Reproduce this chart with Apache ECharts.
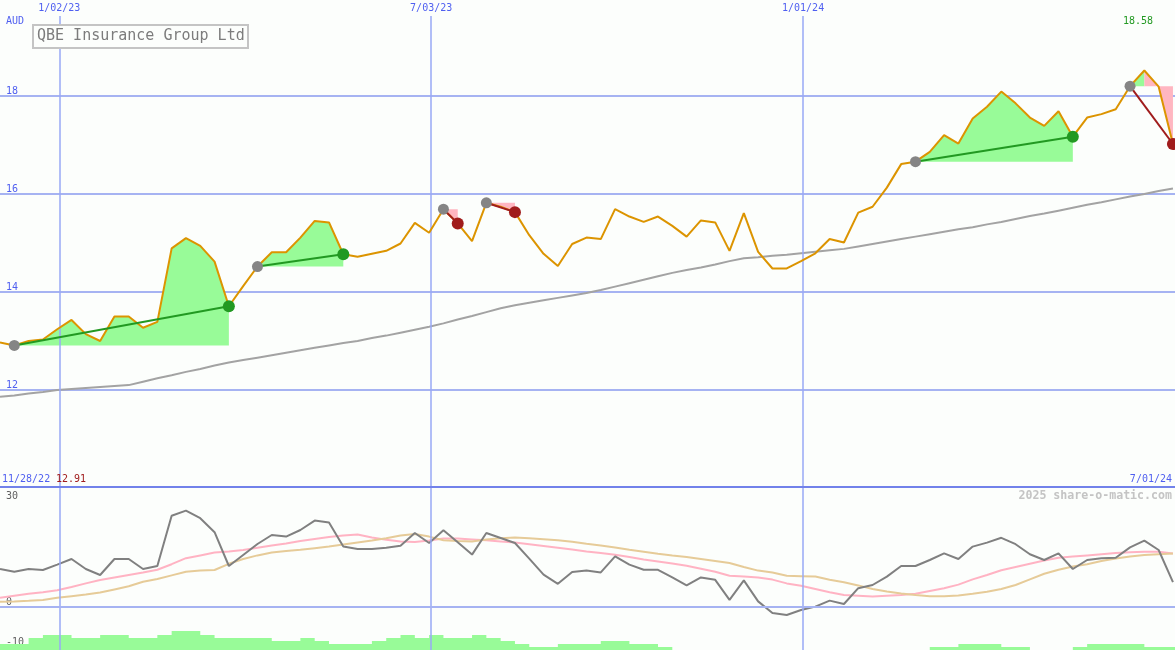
<!DOCTYPE html>
<html><head><meta charset="utf-8">
<script src="https://cdn.jsdelivr.net/npm/echarts@6/dist/echarts.min.js"></script>
<style>html,body{margin:0;padding:0;background:#fcfefc;}#c{width:1175px;height:650px;}</style>
</head><body><div id="c"></div>
<script>
const DAY = 86400000;
const startDate = Date.UTC(2022, 11, 4);
const endDate = Date.UTC(2024, 6, 1);

// weekly close (AUD)
const price = [
 12.97,12.91,13.00,13.03,13.24,13.43,13.14,13.00,13.50,13.50,
 13.27,13.39,14.89,15.10,14.94,14.62,13.71,14.12,14.52,14.81,
 14.81,15.11,15.45,15.42,14.77,14.72,14.78,14.84,14.99,15.41,
 15.21,15.69,15.40,15.04,15.82,15.74,15.63,15.16,14.78,14.53,
 14.98,15.11,15.08,15.69,15.54,15.43,15.54,15.35,15.13,15.46,
 15.42,14.84,15.61,14.82,14.48,14.48,14.63,14.79,15.08,15.01,
 15.62,15.74,16.13,16.61,16.66,16.86,17.20,17.03,17.54,17.78,
 18.09,17.85,17.56,17.39,17.69,17.17,17.56,17.63,17.73,18.20,
 18.52,18.19,17.02
];
// long moving average
const movingAvg = [
 11.86,11.89,11.93,11.96,12.00,12.02,12.04,12.06,12.08,12.10,
 12.17,12.24,12.30,12.37,12.43,12.50,12.56,12.61,12.66,12.71,
 12.76,12.81,12.86,12.91,12.96,13.00,13.06,13.11,13.17,13.23,
 13.29,13.36,13.44,13.51,13.59,13.67,13.73,13.78,13.83,13.88,
 13.93,13.98,14.04,14.11,14.18,14.25,14.32,14.39,14.45,14.50,
 14.56,14.63,14.69,14.71,14.74,14.76,14.79,14.82,14.85,14.88,
 14.93,14.98,15.03,15.08,15.13,15.18,15.23,15.28,15.32,15.38,
 15.43,15.49,15.55,15.60,15.66,15.72,15.78,15.83,15.89,15.95,
 16.00,16.06,16.11
];
// oscillator panel
const oscGray = [
 9.5,8.8,9.5,9.25,10.6,12.0,9.5,8.0,12.0,12.0,
 9.5,10.25,22.8,24.1,22.2,18.7,10.25,13.0,15.75,18.0,
 17.6,19.25,21.6,21.1,15.1,14.5,14.5,14.8,15.3,18.5,
 16.0,19.2,16.2,13.1,18.5,17.25,16.0,12.1,8.1,5.8,
 8.75,9.15,8.65,12.65,10.6,9.3,9.3,7.4,5.4,7.4,
 6.8,1.8,6.65,1.4,-1.5,-2.0,-0.75,0.1,1.6,0.75,
 4.7,5.5,7.6,10.25,10.25,11.75,13.4,12.0,15.1,16.1,
 17.3,15.7,13.2,11.75,13.4,9.5,11.75,12.2,12.3,14.9,
 16.6,14.25,6.2
];
const oscPink = [
 2.3,2.8,3.3,3.7,4.2,5.0,5.9,6.75,7.4,8.0,
 8.6,9.3,10.7,12.2,12.9,13.6,13.9,14.25,14.8,15.4,
 15.9,16.5,17.0,17.5,17.9,18.1,17.4,16.8,16.4,16.25,
 16.6,17.1,17.1,16.9,16.7,16.4,16.1,15.7,15.25,14.8,
 14.35,13.9,13.5,13.05,12.5,11.9,11.4,10.9,10.3,9.55,
 8.8,7.8,7.6,7.4,6.85,5.9,5.3,4.5,3.7,3.0,
 2.8,2.6,2.8,3.0,3.3,4.0,4.7,5.6,6.9,8.0,
 9.2,10.0,10.8,11.6,12.3,12.6,12.9,13.2,13.5,13.7,
 13.8,13.8,13.4
];
const oscTan = [
 1.3,1.4,1.55,1.75,2.3,2.7,3.1,3.6,4.4,5.2,
 6.3,7.0,7.9,8.8,9.1,9.25,10.8,12.0,12.9,13.6,
 14.0,14.3,14.7,15.1,15.6,16.1,16.6,17.2,17.9,18.25,
 17.6,16.7,16.5,16.4,16.9,17.2,17.4,17.2,16.95,16.7,
 16.3,15.8,15.4,14.9,14.3,13.8,13.3,12.85,12.5,12.0,
 11.5,11.0,10.0,9.1,8.6,7.8,7.7,7.6,6.8,6.2,
 5.4,4.5,3.9,3.4,3.0,2.7,2.7,2.9,3.3,3.8,
 4.5,5.5,6.9,8.3,9.3,10.1,10.7,11.5,12.1,12.6,
 13.0,13.2,13.4
];
const volBars = [
 6,6,12,15,15,12,12,15,15,12,
 12,15,19,19,15,12,12,12,12,9,
 9,12,9,6,6,6,9,12,15,12,
 15,12,12,15,12,9,6,3,3,6,
 6,6,9,9,6,6,3,0,0,0,
 0,0,0,0,0,0,0,0,0,0,
 0,0,0,0,0,3,3,6,6,6,
 3,3,0,0,0,3,6,6,6,6,
 3,3,3
];
// trades (week indices)
const tradeEntry = [1, 18, 31, 34, 64, 79];
const tradeExit  = [16, 24, 32, 36, 75, 82];
const tradeWin   = [true, true, false, false, true, false];
// shaded segments between price and entry level
const fillFrom  = [1, 18, 31, 34, 64, 79, 80];
const fillTo    = [16, 24, 32, 36, 75, 80, 82];
const fillTrade = [0, 1, 2, 3, 4, 5, 5];
const fillGreen = [true, true, false, false, true, true, false];
// axis ticks
const tickDates  = ['2023-01-02', '2023-07-03', '2024-01-01'];
const tickLabels = ['1/02/23', '7/03/23', '1/01/24'];
const priceTicks = [12, 14, 16, 18];

const weeks = price.map((_, i) => startDate + i * 7 * DAY);
function ts(s) { const p = s.split('-').map(Number); return Date.UTC(p[0], p[1] - 1, p[2]); }
function pts(arr) { return arr.map((v, i) => [weeks[i], v]); }

const MONO = '"DejaVu Sans Mono", "Liberation Mono", monospace';
const BLUE = '#4f5ff0';
const GRIDC = '#a6b3f2';
const GREENF = '#98fb98';
const PINKF = '#ffb6c1';
const GREEN = '#229922';
const RED = '#a01c1c';

const series = [];
// vertical date lines (full height)
series.push({
  type: 'line', xAxisIndex: 0, yAxisIndex: 0, data: [[startDate, 0]], symbol: 'none',
  lineStyle: { opacity: 0 }, silent: true, z: 1,
  markLine: {
    silent: true, symbol: ['none', 'none'], animation: false,
    lineStyle: { color: '#98a8f6', width: 1.5, type: 'solid', opacity: 1 },
    label: { show: true, position: 'end', formatter: '{b}', color: BLUE, fontFamily: MONO, fontSize: 10, distance: 3 },
    emphasis: { disabled: true },
    data: tickDates.map((d, k) => ({ xAxis: ts(d), name: tickLabels[k],
      lineStyle: { color: '#98a8f6', width: 1.5, type: 'solid', opacity: 1 } }))
  }
});
// shaded areas
fillFrom.forEach((f, k) => {
  const t = fillTo[k];
  const base = price[tradeEntry[fillTrade[k]]];
  const idx = [];
  for (let i = f; i <= t; i++) idx.push(i);
  series.push({
    type: 'line', xAxisIndex: 1, yAxisIndex: 1, stack: 'fill' + k, stackStrategy: 'all',
    symbol: 'none', lineStyle: { width: 0, opacity: 0 }, silent: true, z: 3,
    data: idx.map(i => [weeks[i], base])
  });
  series.push({
    type: 'line', xAxisIndex: 1, yAxisIndex: 1, stack: 'fill' + k, stackStrategy: 'all',
    symbol: 'none', lineStyle: { width: 0, opacity: 0 }, silent: true, z: 3,
    areaStyle: { color: fillGreen[k] ? GREENF : PINKF, opacity: 1 },
    data: idx.map(i => [weeks[i], +(price[i] - base).toFixed(4)])
  });
});
// moving average
series.push({ type: 'line', xAxisIndex: 1, yAxisIndex: 1, data: pts(movingAvg), symbol: 'none',
  lineStyle: { color: '#a3a3a3', width: 2 }, silent: true, z: 4 });
// price
series.push({ type: 'line', xAxisIndex: 1, yAxisIndex: 1, data: pts(price), symbol: 'none',
  lineStyle: { color: '#dc9400', width: 2 }, silent: true, z: 5 });
// trade lines
tradeEntry.forEach((e, k) => {
  const x = tradeExit[k];
  series.push({ type: 'line', xAxisIndex: 1, yAxisIndex: 1, symbol: 'none', silent: true, z: 6,
    lineStyle: { color: tradeWin[k] ? GREEN : RED, width: 2 },
    data: [[weeks[e], price[e]], [weeks[x], price[x]]] });
});
series.push({ type: 'scatter', xAxisIndex: 1, yAxisIndex: 1, symbolSize: 11, silent: true, z: 7,
  itemStyle: { color: '#858585', opacity: 1 },
  data: tradeEntry.map(i => [weeks[i], price[i]]) });
series.push({ type: 'scatter', xAxisIndex: 1, yAxisIndex: 1, symbolSize: 12, silent: true, z: 8,
  itemStyle: { opacity: 1 },
  data: tradeExit.map((i, k) => ({ value: [weeks[i], price[i]], itemStyle: { color: tradeWin[k] ? GREEN : RED } })) });
// oscillator panel
series.push({ type: 'line', xAxisIndex: 2, yAxisIndex: 2, data: pts(oscPink), symbol: 'none',
  lineStyle: { color: '#ffb3c3', width: 2 }, silent: true, z: 3,
  markLine: { silent: true, symbol: ['none', 'none'], animation: false, label: { show: false },
    emphasis: { disabled: true },
    data: [
      { yAxis: 0, lineStyle: { color: GRIDC, width: 2, type: 'solid' } },
      { yAxis: 30, lineStyle: { color: '#7282ea', width: 2, type: 'solid' } }
    ] } });
series.push({ type: 'line', xAxisIndex: 2, yAxisIndex: 2, data: pts(oscTan), symbol: 'none',
  lineStyle: { color: '#e6cb98', width: 2 }, silent: true, z: 3 });
series.push({ type: 'line', xAxisIndex: 2, yAxisIndex: 2, data: pts(oscGray), symbol: 'none',
  lineStyle: { color: '#808080', width: 2 }, silent: true, z: 4 });
// histogram bars
const barPts = pts(volBars);
barPts.push([weeks[weeks.length - 1] + 7 * DAY, volBars[volBars.length - 1]]);
series.push({ type: 'line', xAxisIndex: 3, yAxisIndex: 4, data: barPts, step: 'end', symbol: 'none',
  lineStyle: { width: 0, opacity: 0 }, areaStyle: { color: GREENF, opacity: 1 }, silent: true, z: 3 });

function xAx(g) { return { type: 'time', gridIndex: g, min: startDate, max: endDate, show: false }; }

const option = {
  backgroundColor: '#fcfefc',
  animation: false,
  grid: [
    { left: 0, right: 0, top: 16, bottom: 0, outerBoundsMode: 'none' },
    { left: 0, right: 0, top: -2, height: 490, outerBoundsMode: 'none' },
    { left: 0, right: 0, top: 487, height: 160, outerBoundsMode: 'none' },
    { left: 0, right: 0, top: 620, height: 30, outerBoundsMode: 'none' }
  ],
  xAxis: [xAx(0), xAx(1), xAx(2), xAx(3)],
  yAxis: [
    { type: 'value', gridIndex: 0, min: 0, max: 1, show: false },
    { type: 'value', gridIndex: 1, min: 10, max: 20, interval: 2,
      axisLine: { show: false }, axisTick: { show: false },
      axisLabel: { inside: true, margin: 6, verticalAlign: 'bottom', color: BLUE, fontFamily: MONO, fontSize: 10,
        formatter: v => priceTicks.includes(v) ? String(v) : '' },
      splitLine: { show: true, showMinLine: false, showMaxLine: false, lineStyle: { color: GRIDC, width: 2 } } },
    { type: 'value', gridIndex: 2, min: -10, max: 30, interval: 10,
      axisLine: { show: false }, axisTick: { show: false }, splitLine: { show: false },
      axisLabel: { inside: true, margin: 6, verticalAlign: 'bottom', color: '#606060', fontFamily: MONO, fontSize: 10,
        formatter: v => (v === 0 || v === -10) ? String(v) : '' } },
    { type: 'value', gridIndex: 2, position: 'left', min: -10, max: 30, interval: 40,
      axisLine: { show: false }, axisTick: { show: false }, splitLine: { show: false },
      axisLabel: { inside: true, margin: 6, verticalAlign: 'top', padding: [4, 0, 0, 0], color: '#606060', fontFamily: MONO, fontSize: 10,
        formatter: v => v === 30 ? '30' : '' } },
    { type: 'value', gridIndex: 3, min: 0, max: 30, show: false }
  ],
  graphic: [
    { type: 'text', z: 50, style: { text: 'AUD', x: 6, y: 21, fill: BLUE, font: '10px ' + MONO, textVerticalAlign: 'middle' } },
    { type: 'rect', z: 50, shape: { x: 33, y: 25, width: 215, height: 23 }, style: { fill: '#fcfefc', stroke: '#c4c4c4', lineWidth: 2 } },
    { type: 'text', z: 51, style: { text: 'QBE Insurance Group Ltd', x: 37, y: 36.5, fill: '#7c7c7c', font: '15px ' + MONO, textVerticalAlign: 'middle' } },
    { type: 'text', z: 50, style: { text: '18.58', x: 1123, y: 21, fill: GREEN, font: '10px ' + MONO, textVerticalAlign: 'middle' } },
    { type: 'text', z: 50, style: { text: '11/28/22', x: 2, y: 479, fill: BLUE, font: '10px ' + MONO, textVerticalAlign: 'middle' } },
    { type: 'text', z: 50, style: { text: '12.91', x: 56, y: 479, fill: RED, font: '10px ' + MONO, textVerticalAlign: 'middle' } },
    { type: 'text', z: 50, style: { text: '7/01/24', x: 1172, y: 479, fill: BLUE, font: '10px ' + MONO, textAlign: 'right', textVerticalAlign: 'middle' } },
    { type: 'text', z: 50, style: { text: '2025 share-o-matic.com', x: 1172, y: 496, fill: '#c4c4c4', font: 'bold 11.6px ' + MONO, textAlign: 'right', textVerticalAlign: 'middle' } }
  ],
  series: series
};
const chart = echarts.init(document.getElementById('c'), null, { renderer: 'canvas' });
chart.setOption(option);
</script>
</body></html>
